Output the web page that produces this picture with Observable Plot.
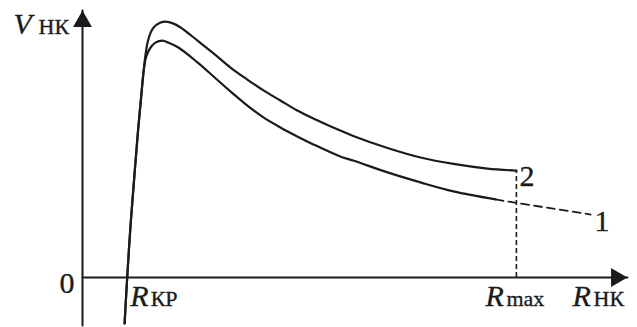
<!DOCTYPE html>
<html>
<head>
<meta charset="utf-8">
<script src="https://cdn.jsdelivr.net/npm/d3@7"></script>
<script src="https://cdn.jsdelivr.net/npm/@observablehq/plot@0.6"></script>
<style>
  html, body { margin: 0; padding: 0; background: #fff; }
  #chart svg text { font-family: "Liberation Serif", "Times New Roman", serif !important; }
</style>
</head>
<body>
<div id="chart"></div>
<script>
// ---- Data (abstract units: R along x, V along y) ----
const rKr = 1.03;      // critical radius (curve crosses zero)
const rMax = 10;       // R max
const rAxisEnd = 12.56;
const vAxisEnd = 10.39;
const vAxisLow = -1.87;

// Shared steep rising trunk
const trunkR = [0.97, 1.03, 1.11, 1.20, 1.28, 1.35, 1.41];
const trunkV = [-1.79, 0.00, 2.10, 4.05, 5.72, 7.00, 8.05];

// Curve 1 (solid part, after trunk)
const curve1R = [1.47, 1.57, 1.68, 1.84, 1.98, 2.21, 2.65, 3.02, 3.41, 3.80, 4.17, 4.56, 4.95, 5.32, 5.94, 6.24, 7.03, 7.79, 8.55, 9.52];
const curve1V = [8.60, 8.95, 9.14, 9.22, 9.14, 8.95, 8.37, 7.82, 7.24, 6.69, 6.23, 5.84, 5.49, 5.18, 4.71, 4.55, 4.09, 3.70, 3.35, 3.04];

// Curve 1 (dashed continuation beyond R max)
const curve1DashR = [9.52, 10.00, 10.85, 11.71];
const curve1DashV = [3.04, 2.90, 2.68, 2.45];

// Curve 2 (after trunk), ends at R max
const curve2R = [1.45, 1.50, 1.57, 1.64, 1.80, 1.91, 2.10, 2.26, 2.65, 3.02, 3.41, 3.80, 4.17, 4.56, 4.95, 5.32, 5.94, 6.24, 7.03, 7.79, 8.55, 9.33, 10.00];
const curve2V = [8.64, 9.14, 9.53, 9.73, 9.92, 9.96, 9.88, 9.73, 9.22, 8.72, 8.17, 7.70, 7.28, 6.89, 6.50, 6.19, 5.72, 5.51, 5.04, 4.67, 4.42, 4.24, 4.16];

// Text labels
const yTitle = ["V", "НК"];
const xTitle = ["R", "НК"];
const rKrLabel = ["R", "КР"];
const rMaxLabel = ["R", "max"];
const originLabel = "0";
const seriesNames = ["1", "2"];

// ---- Build tables ----
const zip = (rs, vs) => rs.map((r, i) => ({R: r, V: vs[i]}));
const trunk = zip(trunkR, trunkV);
const c1 = trunk.concat(zip(curve1R, curve1V));
const c1dash = zip(curve1DashR, curve1DashV);
const c2 = trunk.concat(zip(curve2R, curve2V));
const c2end = c2[c2.length - 1];
const c1end = c1dash[c1dash.length - 1];

const ink = "#1b1b1b";
const serif = "Liberation Serif";
const mainSize = 30;
const subSize = 22;

const T = (data, opts) => Plot.text(data, Object.assign({
  fontFamily: serif, fill: ink, stroke: ink, strokeWidth: 0.35,
  lineAnchor: "bottom", textAnchor: "start"
}, opts));

const chart = Plot.plot({
  width: 637,
  height: 327,
  marginLeft: 82,
  marginRight: 10,
  marginTop: 10,
  marginBottom: 50,
  x: {domain: [0, rAxisEnd], axis: null},
  y: {domain: [0, vAxisEnd], axis: null},
  marks: [
    // axes
    Plot.line([{R: 0, V: vAxisLow}, {R: 0, V: vAxisEnd}], {x: "R", y: "V", stroke: ink, strokeWidth: 2}),
    Plot.line([{R: 0, V: 0}, {R: rAxisEnd, V: 0}], {x: "R", y: "V", stroke: ink, strokeWidth: 2}),
    Plot.dot([{R: 0, V: vAxisEnd}], {x: "R", y: "V", symbol: "triangle", r: 7, fill: ink, stroke: "none", dy: 11}),
    Plot.dot([{R: rAxisEnd, V: 0}], {x: "R", y: "V", symbol: "triangle", r: 7, fill: ink, stroke: "none", rotate: 90, dx: -11}),
    // R max dashed guide
    Plot.ruleX([rMax], {y1: 0, y2: c2end.V, stroke: ink, strokeWidth: 1.6, strokeDasharray: "5,3"}),
    // curves
    Plot.line(c1, {x: "R", y: "V", curve: "catmull-rom", stroke: ink, strokeWidth: 2.2}),
    Plot.line(c1dash, {x: "R", y: "V", curve: "catmull-rom", stroke: ink, strokeWidth: 1.8, strokeDasharray: "8,5"}),
    Plot.line(c2, {x: "R", y: "V", curve: "catmull-rom", stroke: ink, strokeWidth: 2.2}),
    // labels
    T([{R: 0, V: vAxisEnd}], {x: "R", y: "V", text: () => yTitle[0], fontSize: mainSize, fontStyle: "italic", dx: -69, dy: 23}),
    T([{R: 0, V: vAxisEnd}], {x: "R", y: "V", text: () => yTitle[1], fontSize: subSize, dx: -44, dy: 23}),
    T([{R: 0, V: 0}], {x: "R", y: "V", text: () => originLabel, fontSize: mainSize, textAnchor: "end", dx: -8, dy: 15}),
    T([{R: rKr, V: 0}], {x: "R", y: "V", text: () => rKrLabel[0], fontSize: mainSize, fontStyle: "italic", dx: 3, dy: 28}),
    T([{R: rKr, V: 0}], {x: "R", y: "V", text: () => rKrLabel[1], fontSize: subSize, dx: 23.5, dy: 28}),
    T([{R: rMax, V: 0}], {x: "R", y: "V", text: () => rMaxLabel[0], fontSize: mainSize, fontStyle: "italic", dx: -31, dy: 28}),
    T([{R: rMax, V: 0}], {x: "R", y: "V", text: () => rMaxLabel[1], fontSize: subSize, dx: -10, dy: 28}),
    T([{R: rAxisEnd, V: 0}], {x: "R", y: "V", text: () => xTitle[0], fontSize: mainSize, fontStyle: "italic", dx: -55, dy: 28}),
    T([{R: rAxisEnd, V: 0}], {x: "R", y: "V", text: () => xTitle[1], fontSize: subSize, dx: -34, dy: 28}),
    T([c2end], {x: "R", y: "V", text: () => seriesNames[1], fontSize: 30, dx: 3, dy: 15}),
    T([c1end], {x: "R", y: "V", text: () => seriesNames[0], fontSize: 30, dx: 4, dy: 16})
  ]
});
document.getElementById("chart").appendChild(chart);
</script>
</body>
</html>
